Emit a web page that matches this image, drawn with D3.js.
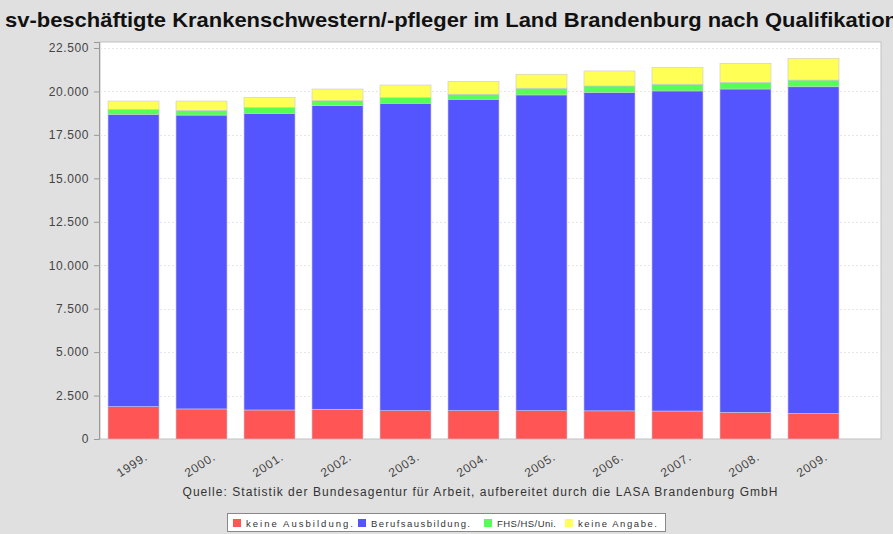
<!DOCTYPE html>
<html>
<head>
<meta charset="utf-8">
<script src="https://cdn.jsdelivr.net/npm/d3@7"></script>
<style>
  html, body { margin: 0; padding: 0; background: #e0e0e0; }
  svg { display: block; font-family: "Liberation Sans", Arial, sans-serif; }
</style>
</head>
<body>
<div id="chart"></div>
<script>
// Daten
var years = ["1999", "2000", "2001", "2002", "2003", "2004", "2005", "2006", "2007", "2008", "2009"];
var keineAusbildung  = [1860, 1730, 1670, 1710, 1630, 1630, 1630, 1620, 1610, 1530, 1470];
var berufsausbildung = [16820, 16910, 17070, 17470, 17690, 17920, 18170, 18310, 18420, 18610, 18800];
var fhsHsUni         = [290, 270, 345, 290, 320, 290, 385, 385, 385, 385, 385];
var keineAngabe      = [480, 535, 575, 670, 730, 730, 805, 865, 955, 1090, 1250];
var seriesNames = ["keine Ausbildung.", "Berufsausbildung.", "FHS/HS/Uni.", "keine Angabe."];
var yTicks = [0, 2500, 5000, 7500, 10000, 12500, 15000, 17500, 20000, 22500];

var colors = ["#ff5555", "#5555ff", "#55ff55", "#ffff55"];
var keys = ["a", "b", "c", "d"];

var rows = years.map(function(y, i){
  return {year: y, a: keineAusbildung[i], b: berufsausbildung[i], c: fhsHsUni[i], d: keineAngabe[i]};
});

var width = 893, height = 534;
var plot = {left: 100, top: 42, right: 881, bottom: 439};

var svg = d3.select("#chart").append("svg").attr("width", width).attr("height", height);

svg.append("rect").attr("width", width).attr("height", height).attr("fill", "#e0e0e0");

// Titel (läuft rechts über den Rand wie im Original)
svg.append("text")
  .attr("x", 5).attr("y", 27)
  .attr("font-size", 21).attr("font-weight", "bold").attr("fill", "#111")
  .attr("textLength", 893).attr("lengthAdjust", "spacingAndGlyphs")
  .text("sv-beschäftigte Krankenschwestern/-pfleger im Land Brandenburg nach Qualifikation");

// Plotfläche
svg.append("rect")
  .attr("x", plot.left).attr("y", plot.top)
  .attr("width", plot.right - plot.left).attr("height", plot.bottom - plot.top)
  .attr("fill", "#fff").attr("stroke", "#c0c0c0");

var x = d3.scaleBand().domain(years).range([plot.left, 847])
  .paddingInner(0.25).paddingOuter(0.118);

var y = d3.scaleLinear().domain([0, 22845]).range([plot.bottom, plot.top]);

var de = d3.formatLocale({decimal: ",", thousands: ".", grouping: [3], currency: ["", " €"]});
var fmt = de.format(",d");

// Gitterlinien
svg.append("g").selectAll("line")
  .data(yTicks.filter(function(d){ return d > 0; }))
  .enter().append("line")
  .attr("x1", plot.left).attr("x2", plot.right)
  .attr("y1", function(d){ return Math.round(y(d)) + 0.5; })
  .attr("y2", function(d){ return Math.round(y(d)) + 0.5; })
  .attr("stroke", "#e6e6e6").attr("stroke-dasharray", "2,2");

// Balken
var stack = d3.stack().keys(keys);
var layers = svg.append("g").selectAll("g")
  .data(stack(rows))
  .enter().append("g")
  .attr("fill", function(d, i){ return colors[i]; });

layers.selectAll("rect")
  .data(function(d){ return d; })
  .enter().append("rect")
  .attr("x", function(d){ return x(d.data.year); })
  .attr("width", x.bandwidth())
  .attr("y", function(d){ return y(d[1]); })
  .attr("height", function(d){ return y(d[0]) - y(d[1]); })
  .attr("stroke", "#c8c8d8").attr("stroke-width", 0.6);

// y-Achse
var yAxis = d3.axisLeft(y).tickValues(yTicks).tickFormat(fmt).tickSize(5).tickPadding(5);
var ga = svg.append("g").attr("transform", "translate(" + (plot.left - 1) + ",0)").call(yAxis);
ga.select(".domain").attr("stroke", "#999");
ga.selectAll(".tick line").attr("stroke", "#999");
ga.selectAll("text").attr("font-size", 12).attr("fill", "#444").attr("letter-spacing", 0.6)
  .attr("font-family", "Liberation Sans, Arial, sans-serif");

// x-Achse (gedrehte Beschriftung)
var xAxis = d3.axisBottom(x).tickSize(0).tickFormat(function(d){ return d + "."; });
var gx = svg.append("g").attr("transform", "translate(0," + plot.bottom + ")").call(xAxis);
gx.select(".domain").remove();
gx.selectAll("text")
  .attr("font-size", 12).attr("fill", "#444").attr("letter-spacing", 0.8)
  .attr("font-family", "Liberation Sans, Arial, sans-serif")
  .attr("text-anchor", "end")
  .attr("dy", 0).attr("y", 0)
  .attr("transform", "translate(15,20) rotate(-33)");

// Quelle
svg.append("text")
  .attr("x", 480).attr("y", 496).attr("text-anchor", "middle")
  .attr("font-size", 12).attr("fill", "#333")
  .attr("textLength", 595).attr("lengthAdjust", "spacing")
  .text("Quelle: Statistik der Bundesagentur für Arbeit, aufbereitet durch die LASA Brandenburg GmbH");

// Legende
var legX = [233, 358, 484, 565];
var legW = [107, 99, 59, 79];
var lg = svg.append("g");
lg.append("rect").attr("x", 227.5).attr("y", 513.5).attr("width", 438).attr("height", 18)
  .attr("fill", "#fff").attr("stroke", "#888");
var items = lg.selectAll("g.item").data(seriesNames).enter().append("g").attr("class", "item");
items.append("rect")
  .attr("x", function(d, i){ return legX[i]; }).attr("y", 519)
  .attr("width", 8).attr("height", 8)
  .attr("fill", function(d, i){ return colors[i]; });
items.append("text")
  .attr("x", function(d, i){ return legX[i] + 13; }).attr("y", 527)
  .attr("font-size", 9.5).attr("fill", "#333")
  .attr("textLength", function(d, i){ return legW[i]; }).attr("lengthAdjust", "spacing")
  .text(function(d){ return d; });
</script>
</body>
</html>
